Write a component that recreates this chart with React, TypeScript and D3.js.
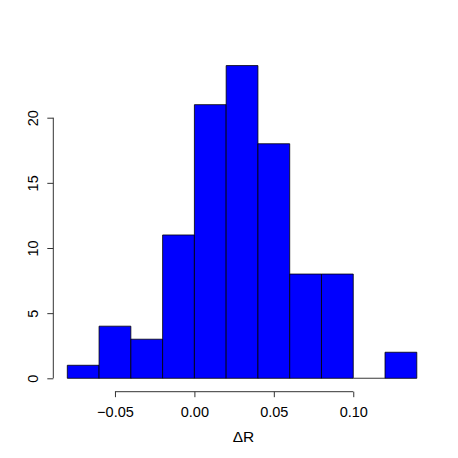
import React, { useEffect, useRef } from "react";
import * as d3 from "d3";

// histogram bins (break edges) and counts
const binEdges = [-0.08, -0.06, -0.04, -0.02, 0.0, 0.02, 0.04, 0.06, 0.08, 0.1, 0.12, 0.14];
const counts = [1, 4, 3, 11, 21, 24, 18, 8, 8, 0, 2];
const xTicks = [-0.05, 0.0, 0.05, 0.1];
const yTicks = [0, 5, 10, 15, 20];

const App = () => {
  const svgRef = useRef<SVGSVGElement>(null);
  const width = 458;
  const height = 458;

  useEffect(() => {
    const svg = d3.select(svgRef.current);
    svg.selectAll("*").remove();

    const font = "'Liberation Sans', Arial, sans-serif";
    const fontSize = 14.5;

    // scales
    const xScale = d3.scaleLinear().domain([-0.08, 0.14]).range([67.3, 416.8]);
    const yScale = d3.scaleLinear().domain([0, 20]).range([378.3, 117.7]);

    const bins = counts.map((c, i) => ({ x0: binEdges[i], x1: binEdges[i + 1], count: c }));

    // bars as closed paths, so an empty bin still shows its flat outline like R
    svg
      .append("g")
      .selectAll("path")
      .data(bins)
      .enter()
      .append("path")
      .attr("d", (d) => {
        const x0 = xScale(d.x0);
        const x1 = xScale(d.x1);
        const y0 = yScale(0);
        const y1 = yScale(d.count);
        return `M${x0},${y0}V${y1}H${x1}V${y0}Z`;
      })
      .attr("fill", "#0000ff")
      .attr("stroke", (d) => (d.count === 0 ? "#555" : "#000"))
      .attr("stroke-width", 0.8);

    // x axis
    const xAxis = svg
      .append("g")
      .attr("transform", `translate(0, 391.7)`)
      .call(d3.axisBottom(xScale).tickValues(xTicks).tickSize(5.5).tickSizeOuter(0));
    xAxis.attr("font-family", font).attr("font-size", fontSize);
    xAxis.select(".domain").attr("d", `M${xScale(xTicks[0])},0H${xScale(xTicks[xTicks.length - 1])}`).attr("stroke", "#333");
    xAxis.selectAll("line").attr("stroke", "#333");
    xAxis
      .selectAll(".tick text")
      .attr("y", 25)
      .attr("dy", "0")
      .attr("fill", "#000")
      .text((d) => d3.format(".2f")(d as number).replace("-", "\u2212"));

    // y axis
    const yAxis = svg
      .append("g")
      .attr("transform", `translate(53.3, 0)`)
      .call(d3.axisLeft(yScale).tickValues(yTicks).tickSize(6).tickSizeOuter(0).tickFormat(d3.format("d")));
    yAxis.attr("font-family", font).attr("font-size", fontSize);
    yAxis.select(".domain").attr("d", `M0,${yScale(0)}V${yScale(20)}`).attr("stroke", "#333");
    yAxis.selectAll("line").attr("stroke", "#333");
    // rotate labels so they read bottom to top, baseline next to the ticks
    yAxis
      .selectAll(".tick text")
      .attr("x", 0)
      .attr("y", 0)
      .attr("dy", "0")
      .attr("text-anchor", "middle")
      .attr("fill", "#000")
      .attr("transform", "translate(-15,0) rotate(-90)");

    // x label
    svg
      .append("text")
      .attr("x", xScale(0.03) + 1.5)
      .attr("y", 441.5)
      .attr("text-anchor", "middle")
      .attr("font-family", font)
      .attr("font-size", 15.5)
      .text("\u0394R");
  }, []);

  return (
    <div style={{ position: "absolute", left: 0, top: 0 }}>
      <svg ref={svgRef} width={width} height={height} style={{ display: "block", background: "#fff" }}></svg>
    </div>
  );
};

export default App;
